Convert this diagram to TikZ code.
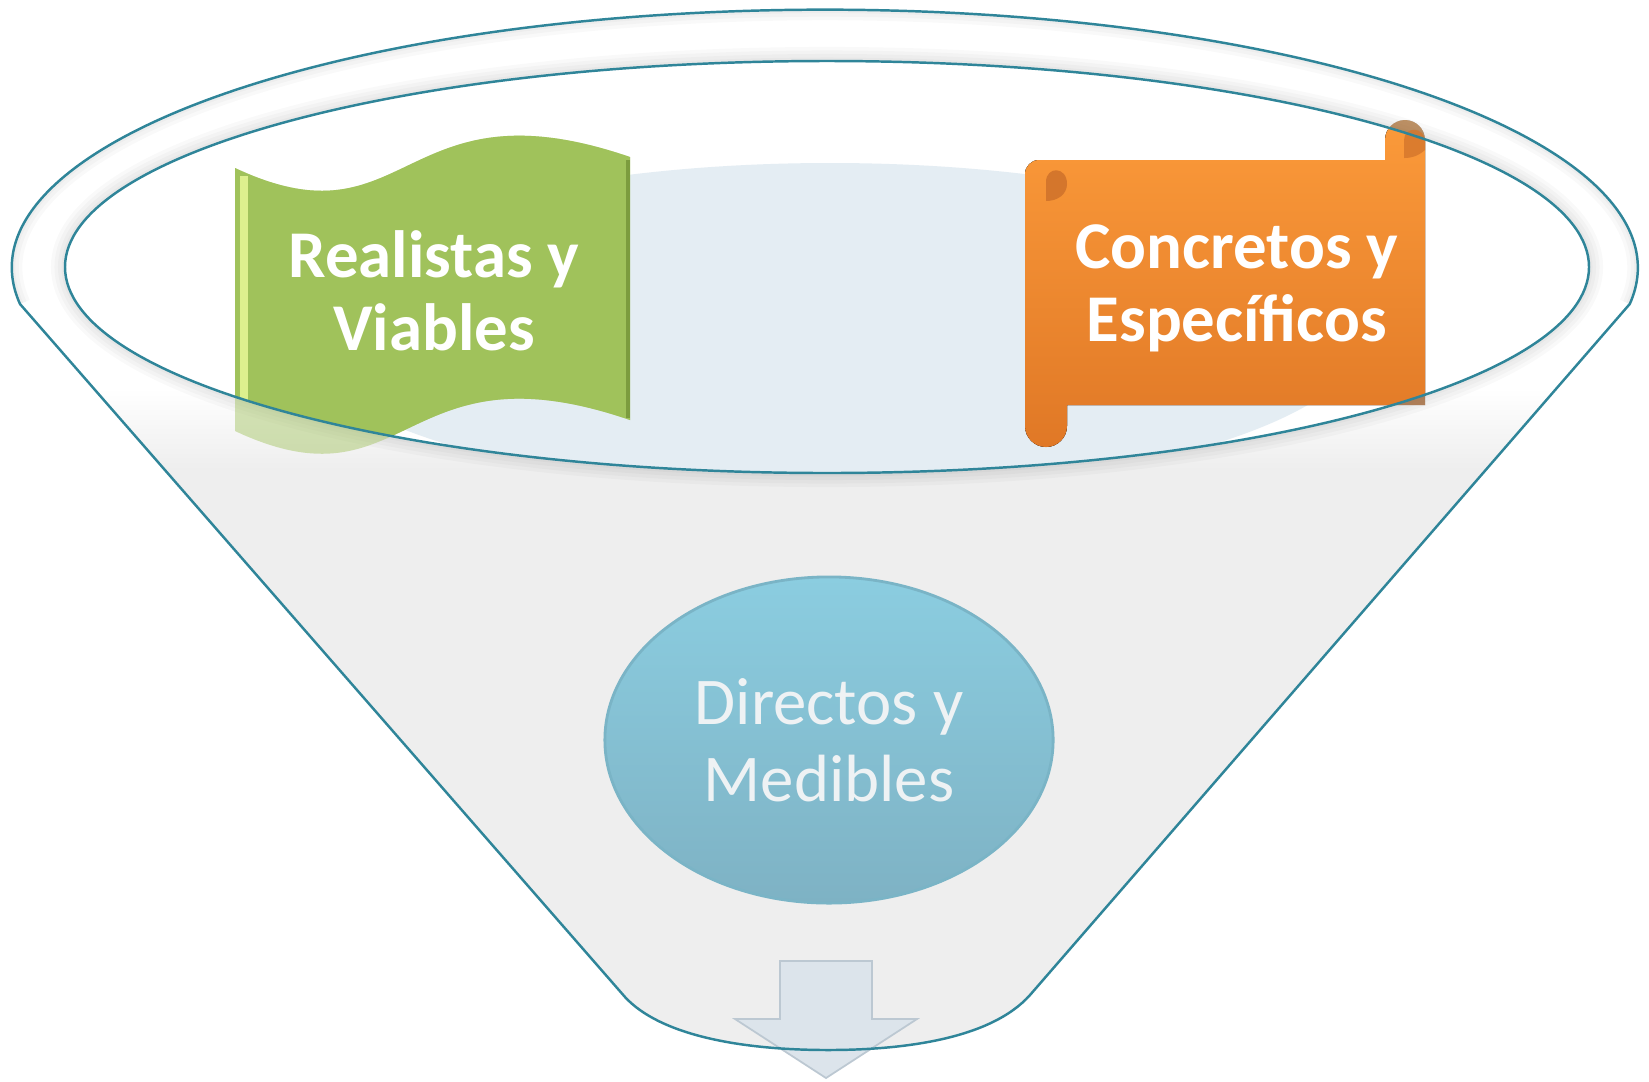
\documentclass[tikz,border=0pt]{standalone}
\usepackage{fontspec}
\setmainfont{Carlito}
\usetikzlibrary{shapes.geometric}
\tikzset{>=latex, line width=0.7pt}
\definecolor{rimteal}{HTML}{2F8599}
\definecolor{bodygray}{HTML}{EEEEEE}
\definecolor{liquidblue}{HTML}{E4EDF3}
\definecolor{tapegreen}{HTML}{A0C25B}
\definecolor{tapelight}{HTML}{DDF08E}
\definecolor{tapedark}{HTML}{7C9C3E}
\definecolor{scrolltop}{HTML}{FB9A3A}
\definecolor{scrollbot}{HTML}{E07826}
\definecolor{scrollcurl}{HTML}{D4762C}
\definecolor{bubbletop}{HTML}{8BCDE0}
\definecolor{bubblebot}{HTML}{7EB2C4}
\definecolor{bubbleedge}{HTML}{7AB4C6}
\definecolor{bubbletext}{HTML}{EEF2F4}
\definecolor{arrowfill}{HTML}{DCE4EB}
\definecolor{arrowedge}{HTML}{BCC8D2}

% paths that are drawn twice (faded, and inside the mouth)
\def\tapepath{(235,-168) .. controls (410,-250) and (400,-78) .. (630,-157)
  -- (630,-420) .. controls (400,-341) and (410,-513) .. (235,-431) -- cycle}
\def\scrollpath{(1025,-174) arc[start angle=180,end angle=90,radius=14] -- (1385,-160)
  -- (1385,-140) arc[start angle=180,end angle=0,radius=20] -- (1425,-405) -- (1067,-405)
  -- (1067,-426) arc[start angle=0,end angle=-180,radius=21] -- cycle}
\def\mouth{(827,-267) ellipse[x radius=762,y radius=206]}
\def\funneltop{(20,-304) arc[start angle=188.1,end angle=-8.1,x radius=813,y radius=258]}
\def\funnelpath{\funneltop
  -- (1030,-995) .. controls (990,-1040) and (900,-1050) .. (828,-1050)
  .. controls (740,-1050) and (660,-1035) .. (625,-997) -- cycle}

\begin{document}
\begin{tikzpicture}[x=0.01cm,y=0.01cm,
  tape/.style={fill=tapegreen},
  scroll/.style={top color=scrolltop,bottom color=scrollbot},
  curl/.style={fill=scrollcurl},
  rimline/.style={draw=rimteal,line width=0.7pt},
  rimshade/.style={draw=black,opacity=.025},
  ribbontext/.style={text=white,align=center,font=\bfseries\fontsize{19}{20.7}\selectfont},
  bubble/.style={ellipse,minimum width=4.48cm,minimum height=3.26cm,inner sep=0pt,
    top color=bubbletop,bottom color=bubblebot,draw=bubbleedge,line width=0.8pt,
    text=bubbletext,align=center,font=\fontsize{19}{21.8}\selectfont},
  downarrow/.style={fill=arrowfill,draw=arrowedge,line width=0.5pt,line join=miter}]

  \fill[white] (0,0) rectangle (1649,-1081);
  \useasboundingbox (0,0) rectangle (1649,-1081);

  % funnel
  \fill[bodygray] \funnelpath;
  \begin{scope}
    \clip \funnelpath;
    \fill[white] \funneltop -- (1560,-390) -- (90,-390) -- cycle;
    \shade[top color=white,bottom color=bodygray] (0,-388) rectangle (1649,-470);
    \fill[bodygray] \mouth;
  \end{scope}
  \begin{scope}
    \clip (0,0) rectangle (1649,-1081) \mouth;
    \foreach \w in {2,4,6,8}
      \draw[rimshade,line width=\w pt] \mouth;
  \end{scope}
  \begin{scope}
    \clip \funneltop -- cycle;
    \foreach \w in {2,4,6}
      \draw[rimshade,line width=\w pt] \funneltop;
  \end{scope}
  \fill[white] \mouth;
  \begin{scope}
    \clip \mouth;
    \fill[liquidblue] (830,-328) ellipse[x radius=540,y radius=165];
  \end{scope}

  % arrow out of the funnel
  \draw[downarrow] (780,-961) -- (872,-961) -- (872,-1019) -- (917,-1019)
    -- (826,-1078) -- (735,-1019) -- (780,-1019) -- cycle;

  % ribbons, faded outside the mouth
  \fill[tape,opacity=.45] \tapepath;
  \fill[scroll,opacity=.45] \scrollpath;
  \begin{scope}
    \clip \mouth;
    \fill[tape] \tapepath;
    \draw[tapelight,line width=2.5pt] (244,-176) -- (244,-424);
    \draw[tapedark,line width=1pt] (628,-160) -- (628,-418);
    \fill[scroll] \scrollpath;
  \end{scope}
  \fill[curl] (1046,-201) -- (1046,-182) .. controls (1046,-166) and (1067,-166) .. (1067,-184)
    .. controls (1067,-194) and (1058,-201) .. cycle;
  \fill[curl,opacity=.8] (1404,-158) -- (1404,-140) .. controls (1404,-126) and (1425,-126) .. (1425,-142)
    -- (1425,-150) .. controls (1418,-156) and (1412,-158) .. cycle;

  \node[ribbontext] (realist) at (434,-291) {Realistas y\\Viables};
  \node[ribbontext] (concret) at (1237,-288) {Concretos y\\Específicos};

  % outlines
  \draw[rimline] \funnelpath;
  \draw[rimline] \mouth;

  \node[bubble] (direct) at (829,-740) {Directos y\\Medibles};
\end{tikzpicture}
\end{document}
